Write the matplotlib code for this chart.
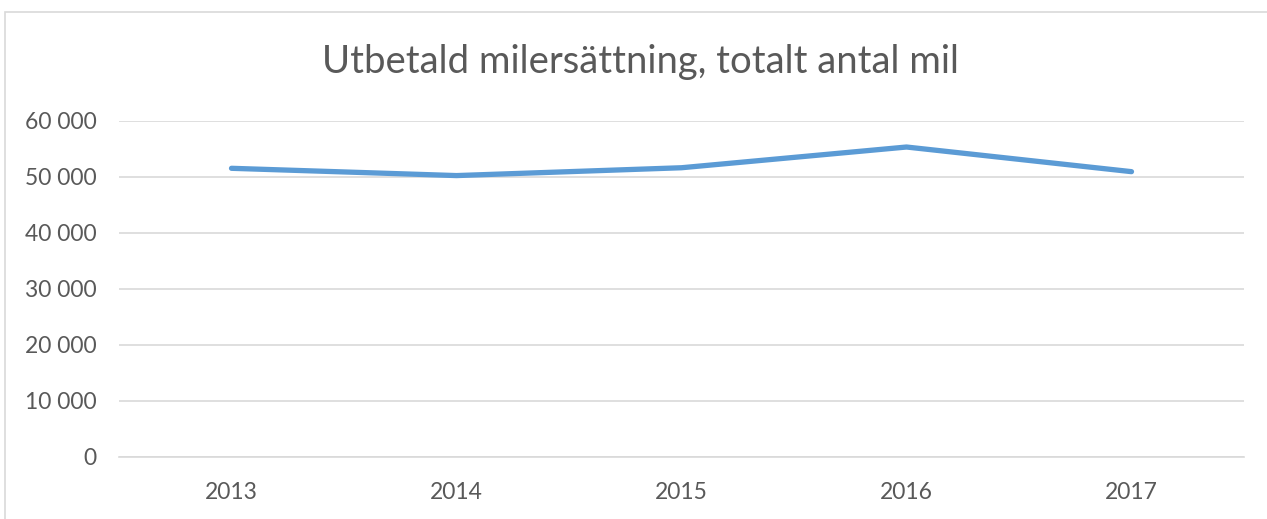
import matplotlib.pyplot as plt
from matplotlib.patches import Rectangle
from matplotlib.ticker import FuncFormatter

years = ['2013', '2014', '2015', '2016', '2017']
mil = [51500, 50200, 51600, 55300, 50900]
yticks = [0, 10000, 20000, 30000, 40000, 50000, 60000]

W, H = 1267, 519
plt.rcParams['font.family'] = ['Lato', 'DejaVu Sans']
fig = plt.figure(figsize=(W / 100, H / 100), dpi=100)

# chart border (light gray, only top and left visible in the crop)
fig.patches.append(Rectangle((5 / W, -0.1), 1.2, 1 - 12 / H + 0.1,
                             transform=fig.transFigure, fill=False,
                             edgecolor='#D9D9D9', linewidth=1.2))

left, right = 119 / W, 1244 / W
top, bottom = 1 - 120.7 / H, 1 - 456.7 / H
ax = fig.add_axes([left, bottom, right - left, top - bottom])

x = range(len(years))
ax.plot(x, mil, color='#5B9BD5', linewidth=3.8, solid_capstyle='round',
        solid_joinstyle='round', zorder=3)

ax.set_xlim(-0.5, len(years) - 0.5)
ax.set_ylim(0, 60000)
ax.set_yticks(yticks)
ax.yaxis.set_major_formatter(FuncFormatter(lambda v, p: f'{int(v):,}'.replace(',', ' ')))
ax.set_xticks(list(x))
ax.set_xticklabels(years)
ax.grid(axis='y', color='#D9D9D9', linewidth=1.2)
ax.set_axisbelow(True)
for s in ['top', 'right', 'left']:
    ax.spines[s].set_visible(False)
ax.spines['bottom'].set_color('#D9D9D9')
ax.spines['bottom'].set_linewidth(1.2)
ax.tick_params(length=0, colors='#595959', labelsize=16.5)
ax.tick_params(axis='y', pad=16)
ax.tick_params(axis='x', pad=18)

fig.text(640 / W, 1 - 62 / H, 'Utbetald milersättning, totalt antal mil',
         ha='center', va='center', fontsize=27.5, color='#595959')

fig.savefig('out.png', dpi=100)
